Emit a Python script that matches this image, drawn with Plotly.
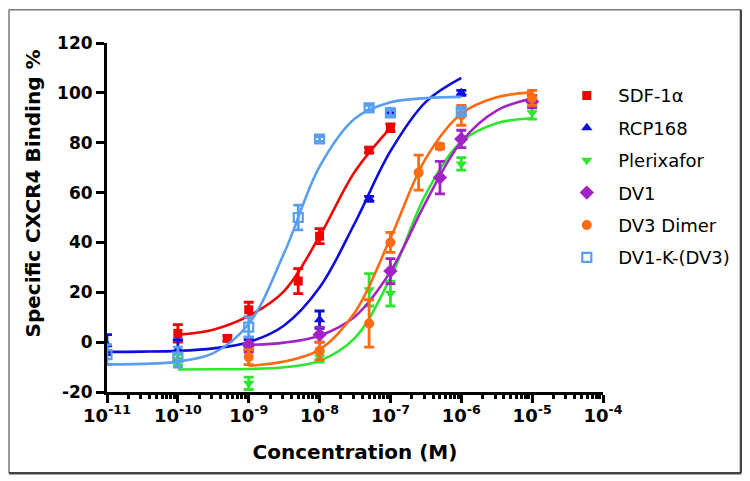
import plotly.graph_objects as go

# ---------------- data ----------------
# measured points: concentration (M), specific binding (%), error (SEM)
sdf_conc = [1e-10, 5e-10, 1e-9, 5e-9, 1e-8, 5e-8, 1e-7]
sdf_val = [3.5, 1.5, 13, 24.5, 42.5, 77, 86]
sdf_err = [3.5, 1, 3, 5, 3, 1, 1.5]

rcp_conc = [1e-11, 1e-10, 1e-9, 1e-8, 5e-8, 1e-7, 1e-6]
rcp_val = [-1, -3, -1, 9, 57.5, 92.5, 100]
rcp_err = [4, 4, 2, 3.5, 1, 1, 1]

plx_conc = [1e-10, 1e-9, 1e-8, 5e-8, 1e-7, 1e-6, 1e-5]
plx_val = [-7, -16.5, -6, 21, 19.5, 71.5, 92]
plx_err = [2, 2.5, 2, 6.5, 5, 2.5, 2.5]

dv1_conc = [1e-9, 1e-8, 1e-7, 5e-7, 1e-6, 1e-5]
dv1_val = [-1, 3, 28.5, 66, 81.5, 96.5]
dv1_err = [3, 3, 5, 6.5, 3.5, 2.5]

dv3_conc = [1e-9, 1e-8, 5e-8, 1e-7, 2.5e-7, 5e-7, 1e-6, 1e-5]
dv3_val = [-6, -3.5, 7.5, 40, 68, 78.5, 91, 98]
dv3_err = [3, 3.5, 9.5, 4, 7, 1, 4, 3]

dvk_conc = [1e-11, 1e-10, 1e-9, 5e-9, 1e-8, 5e-8, 1e-7, 1e-6]
dvk_val = [-5, -6, 6, 50, 81.5, 94, 92, 92.5]
dvk_err = [4, 4, 4, 5, 1, 1, 1, 1]

# fitted dose-response curves, every half decade
sdf_fit_conc = [1e-10, 3.16e-10, 1e-9, 3.16e-9, 1e-8, 3.16e-8, 1e-7]
sdf_fit_val = [3, 5, 10.5, 20.5, 42.5, 68.5, 86]

rcp_fit_conc = [1e-11, 3.16e-11, 1e-10, 3.16e-10, 1e-9, 3.16e-9, 1e-8, 3.16e-8, 1e-7, 3.16e-7, 1e-6]
rcp_fit_val = [-3.9, -3.8, -3.5, -2.5, 0, 6.7, 21.9, 47.9, 76.6, 96.4, 106]

plx_fit_conc = [1e-10, 3.16e-10, 1e-9, 3.16e-9, 1e-8, 3.16e-8, 1e-7, 3.16e-7, 1e-6, 3.16e-6, 1e-5]
plx_fit_val = [-11, -10.9, -10.8, -10.1, -7.5, 1.7, 25.8, 59.4, 80.4, 87.8, 89.8]

dv1_fit_conc = [1e-9, 3.16e-9, 1e-8, 3.16e-8, 1e-7, 3.16e-7, 1e-6, 3.16e-6, 1e-5]
dv1_fit_val = [-1.1, -0.2, 2.6, 10.3, 28.3, 56.2, 80.4, 92.9, 97.7]

dv3_fit_conc = [1e-9, 3.16e-9, 1e-8, 3.16e-8, 1e-7, 3.16e-7, 1e-6, 3.16e-6, 1e-5]
dv3_fit_val = [-9.5, -7.8, -3, 12, 41.7, 73.7, 91.6, 98.2, 100.2]

dvk_fit_conc = [1e-11, 3.16e-11, 1e-10, 3.16e-10, 1e-9, 3.16e-9, 1e-8, 3.16e-8, 1e-7, 3.16e-7, 1e-6]
dvk_fit_val = [-8.9, -8.7, -7.8, -4.4, 7.3, 35.7, 70.4, 89.7, 96.2, 97.9, 98.4]

# axis ticks
x_tick_vals = [1e-11, 1e-10, 1e-9, 1e-8, 1e-7, 1e-6, 1e-5, 1e-4]
x_tick_text = ["10<sup>-11</sup>", "10<sup>-10</sup>", "10<sup>-9</sup>", "10<sup>-8</sup>",
               "10<sup>-7</sup>", "10<sup>-6</sup>", "10<sup>-5</sup>", "10<sup>-4</sup>"]
x_minor_vals = [m * v for v in x_tick_vals[:-1] for m in range(2, 10)]
y_tick_vals = [-20, 0, 20, 40, 60, 80, 100, 120]
y_tick_text = ["-20", "0", "20", "40", "60", "80", "100", "120"]

series = [
    ("SDF-1\u03b1", sdf_conc, sdf_val, sdf_err, sdf_fit_conc, sdf_fit_val, "#f20000",
     dict(symbol="square", size=9)),
    ("RCP168", rcp_conc, rcp_val, rcp_err, rcp_fit_conc, rcp_fit_val, "#0c0cdc",
     dict(symbol="triangle-up", size=10)),
    ("Plerixafor", plx_conc, plx_val, plx_err, plx_fit_conc, plx_fit_val, "#2ee62e",
     dict(symbol="triangle-down", size=10)),
    ("DV1", dv1_conc, dv1_val, dv1_err, dv1_fit_conc, dv1_fit_val, "#a322c6",
     dict(symbol="diamond", size=11)),
    ("DV3 Dimer", dv3_conc, dv3_val, dv3_err, dv3_fit_conc, dv3_fit_val, "#ff6a12",
     dict(symbol="circle", size=10)),
    ("DV1-K-(DV3)", dvk_conc, dvk_val, dvk_err, dvk_fit_conc, dvk_fit_val, "#5a9ef0",
     dict(symbol="square-open", size=9, line=dict(width=2.2))),
]

fig = go.Figure()
for i, (name, xc, yv, ye, fx, fy, col, mk) in enumerate(series):
    fig.add_trace(go.Scatter(
        x=fx, y=fy, mode="lines", line=dict(color=col, width=2.6, shape="spline"),
        showlegend=False, hoverinfo="skip"))
    mk = dict(mk)
    mk["color"] = col
    fig.add_trace(go.Scatter(
        x=xc, y=yv, mode="markers", name="\u00a0\u00a0" + name, marker=mk,
        legendgroup="g%d" % i,
        error_y=dict(type="data", array=ye, visible=True, color=col,
                     thickness=2.8, width=5)))

bold = dict(family="DejaVu Sans", size=17, color="black", weight="bold")

# frame lines around the whole picture (paper coordinates)
fx0, fx1, fy0, fy1 = -0.1976, 1.2782, -0.233, 1.0954
frame = [
    dict(x0=fx0, x1=fx0, y0=fy0, y1=fy1, color="#777777", width=1.5),
    dict(x0=fx0, x1=fx1, y0=fy1, y1=fy1, color="#777777", width=1.5),
    dict(x0=fx1, x1=fx1, y0=fy0, y1=fy1, color="#444444", width=2.5),
    dict(x0=fx0, x1=fx1, y0=fy0, y1=fy0, color="#444444", width=2.5),
]
shapes = [dict(type="line", xref="paper", yref="paper", x0=f["x0"], x1=f["x1"],
               y0=f["y0"], y1=f["y1"], line=dict(color=f["color"], width=f["width"]))
          for f in frame]

# The page adds an 8px body margin, so the figure is 742x473 and sits at (8, 8).
fig.update_layout(
    width=742, height=473,
    margin=dict(l=99, r=147, t=35, b=89, autoexpand=False),
    paper_bgcolor="white", plot_bgcolor="white",
    font=dict(family="DejaVu Sans", color="black"),
    showlegend=True,
    legend=dict(x=0.927, xanchor="left", y=0.902, yanchor="top",
                font=dict(family="DejaVu Sans", size=18, color="black"),
                bgcolor="rgba(0,0,0,0)", tracegroupgap=6, itemsizing="trace"),
    xaxis=dict(
        type="log", range=[-11, -4], showline=True, linewidth=3, linecolor="black",
        ticks="outside", ticklen=8, tickwidth=3, tickcolor="black",
        tickmode="array", tickvals=x_tick_vals, ticktext=x_tick_text,
        ticklabelstandoff=-3,
        tickfont=dict(family="DejaVu Sans", size=18, color="black", weight="bold"),
        showgrid=False, zeroline=False, automargin=False,
        minor=dict(ticks="outside", ticklen=4, tickwidth=2.5, tickcolor="black",
                   tickmode="array", tickvals=x_minor_vals, showgrid=False),
        title=dict(text="Concentration (M)", standoff=21,
                   font=dict(family="DejaVu Sans", size=20, color="black", weight="bold")),
    ),
    yaxis=dict(
        range=[-20, 120], tickmode="array", tickvals=y_tick_vals, ticktext=y_tick_text,
        showline=True, linewidth=3, linecolor="black",
        ticks="outside", ticklen=8, tickwidth=3, tickcolor="black",
        tickfont=bold, showgrid=False, zeroline=False, automargin=False,
    ),
    annotations=[dict(text="Specific CXCR4 Binding %", textangle=-90,
                      xref="paper", yref="paper", x=-0.149, y=0.569,
                      xanchor="center", yanchor="middle", showarrow=False,
                      font=dict(family="DejaVu Sans", size=20, color="black", weight="bold"))],
    shapes=shapes,
)

fig.write_html("out.html")
